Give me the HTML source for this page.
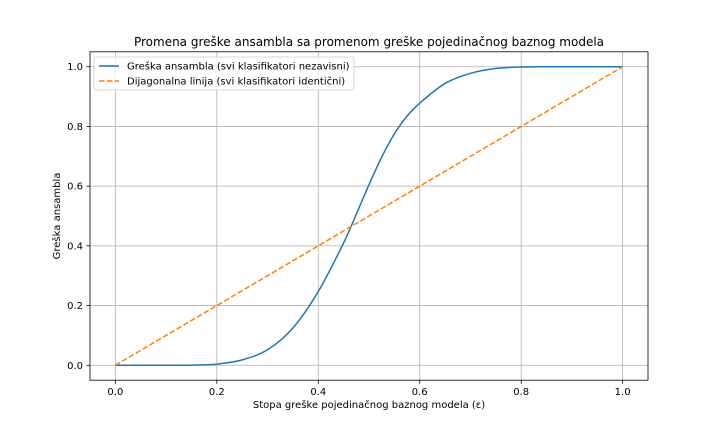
<!DOCTYPE html>
<html><head><meta charset="utf-8"><style>
body{margin:0;background:#fff}
svg text{font-family:"DejaVu Sans","Liberation Sans",sans-serif;fill:#000}
</style></head><body>
<svg id="chart" width="720" height="432" xmlns="http://www.w3.org/2000/svg">
<rect width="720" height="432" fill="#fff"/>
<g id="grid"></g>
<g id="ticks"></g>
<g id="series"></g>
<rect x="90" y="51.8" width="558" height="328.4" fill="none" stroke="#000" stroke-width="0.8"/>
<text x="369" y="46" font-size="12" text-anchor="middle">Promena greške ansambla sa promenom greške pojedinačnog baznog modela</text>
<text x="369" y="408" font-size="10" text-anchor="middle">Stopa greške pojedinačnog baznog modela (ε)</text>
<text transform="translate(60,216) rotate(-90)" font-size="10" text-anchor="middle">Greška ansambla</text>
<g>
<rect x="94" y="57" width="260" height="33" rx="2" fill="#fff" fill-opacity="0.8" stroke="#ccc" stroke-width="0.8"/>
<line x1="99" y1="66" x2="119" y2="66" stroke="#1f77b4" stroke-width="1.5"/>
<text x="127" y="69.5" font-size="10">Greška ansambla (svi klasifikatori nezavisni)</text>
<line x1="99" y1="81" x2="119" y2="81" stroke="#ff7f0e" stroke-width="1.5" stroke-dasharray="5.5,2.4"/>
<text x="127" y="84.5" font-size="10">Dijagonalna linija (svi klasifikatori identični)</text>
</g>
</svg>
<script>
const epsValues=[0,0.05,0.1,0.15,0.2,0.25,0.3,0.35,0.4,0.45,0.475,0.5,0.525,0.55,0.575,0.6,0.65,0.7,0.75,0.8,0.85,0.9,0.95,1];
const ensembleError=[0,0,0,0.0005,0.004,0.018,0.052,0.125,0.247,0.41,0.506,0.605,0.697,0.775,0.835,0.878,0.944,0.978,0.994,0.999,1,1,1,1];
const diagonalError=[0,1];
const diagonalEps=[0,1];
const xTicks=[0,0.2,0.4,0.6,0.8,1.0];
const yTicks=[0,0.2,0.4,0.6,0.8,1.0];
const xTickLabels=["0.0","0.2","0.4","0.6","0.8","1.0"];
const yTickLabels=["0.0","0.2","0.4","0.6","0.8","1.0"];
const L=90,R=648,T=51.8,B=380.2;
const sx=v=>L+(v+0.05)/1.1*(R-L);
const sy=v=>B-(v+0.05)/1.1*(B-T);
const NS="http://www.w3.org/2000/svg";
function mk(tag,attrs,parent){const e=document.createElementNS(NS,tag);for(const k in attrs)e.setAttribute(k,attrs[k]);parent.appendChild(e);return e;}
const grid=document.getElementById('grid'),ticks=document.getElementById('ticks'),series=document.getElementById('series');
xTicks.forEach((v,i)=>{
 const g=mk('line',{x1:sx(v),x2:sx(v),y1:T,y2:B,stroke:'#b0b0b0','stroke-width':0.8},grid);
 
 
 const t=mk('line',{x1:sx(v),x2:sx(v),y1:B,y2:B+3.5,stroke:'#000','stroke-width':0.8},ticks);
 
 
 const l=mk('text',{x:sx(v),y:B+15,'font-size':10,'text-anchor':'middle'},ticks);
 l.textContent=xTickLabels[i];
 
 
});
yTicks.forEach((v,i)=>{
 const g=mk('line',{x1:L,x2:R,y1:sy(v),y2:sy(v),stroke:'#b0b0b0','stroke-width':0.8},grid);
 
 
 const t=mk('line',{x1:L-3.5,x2:L,y1:sy(v),y2:sy(v),stroke:'#000','stroke-width':0.8},ticks);
 
 
 const l=mk('text',{x:L-7,y:sy(v)+3.5,'font-size':10,'text-anchor':'end'},ticks);
 l.textContent=yTickLabels[i];
 
 
});
const pts=epsValues.map((e,i)=>[sx(e),sy(ensembleError[i])]);
let d='M'+pts[0][0]+','+pts[0][1];
for(let i=0;i<pts.length-1;i++){
 const p0=pts[Math.max(0,i-1)],p1=pts[i],p2=pts[i+1],p3=pts[Math.min(pts.length-1,i+2)];
 const c1=[p1[0]+(p2[0]-p0[0])/6,p1[1]+(p2[1]-p0[1])/6];
 const c2=[p2[0]-(p3[0]-p1[0])/6,p2[1]-(p3[1]-p1[1])/6];
 d+=` C${c1[0]},${c1[1]} ${c2[0]},${c2[1]} ${p2[0]},${p2[1]}`;
}
const ens=mk('path',{d:d,fill:'none',stroke:'#1f77b4','stroke-width':1.5},series);


const diag=mk('path',{d:diagonalEps.map((e,i)=>(i?'L':'M')+sx(e)+','+sy(diagonalError[i])).join(' '),fill:'none',stroke:'#ff7f0e','stroke-width':1.5,'stroke-dasharray':'5.5,2.4'},series);


</script>
</body></html>
